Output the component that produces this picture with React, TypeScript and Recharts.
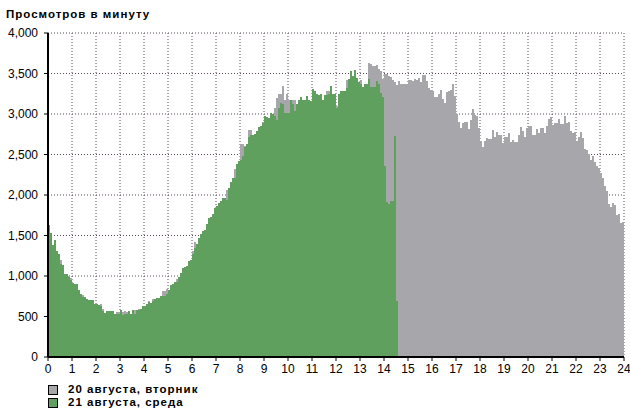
import React from "react";
import { BarChart, Bar, XAxis, YAxis, CartesianGrid } from "recharts";

// 5-minute bins, 288 per day
const hourTicks = [
  0, 1, 2, 3, 4, 5, 6, 7, 8, 9, 10, 11, 12, 13, 14, 15, 16, 17, 18, 19, 20, 21, 22, 23, 24,
];
const viewTicks = [0, 500, 1000, 1500, 2000, 2500, 3000, 3500, 4000];

const seriesNames = ["20 августа, вторник", "21 августа, среда"];

// Tuesday, Aug 20 — full day
const tuesdayViews = [
  1600, 1500, 1360, 1420, 1290, 1260, 1202, 1120, 1010, 1020, 996, 975,
  900, 890, 890, 820, 770, 770, 730, 710, 690, 690, 690, 640,
  640, 630, 650, 597, 543, 550, 555, 550, 555, 520, 551, 551,
  565, 551, 568, 551, 560, 530, 575, 584, 570, 593, 585, 615,
  620, 645, 691, 660, 716, 710, 725, 725, 749, 815, 815, 839,
  825, 880, 900, 920, 967, 980, 1030, 1090, 1105, 1110, 1175, 1195,
  1309, 1420, 1387, 1470, 1510, 1550, 1560, 1630, 1715, 1720, 1755, 1840,
  1860, 1900, 1920, 1960, 1960, 2057, 2085, 2160, 2210, 2316, 2370, 2410,
  2633, 2633, 2600, 2625, 2797, 2797, 2735, 2740, 2780, 2830, 2845, 2900,
  2965, 2955, 2940, 3010, 2990, 3077, 3192, 3241, 3241, 3344, 3179, 3253,
  3179, 3170, 3179, 3167, 3120, 3170, 3200, 3160, 3170, 3215, 3160, 3150,
  3300, 3285, 3250, 3230, 3235, 3165, 3230, 3282, 3290, 3340, 3245, 3235,
  3100, 3235, 3275, 3285, 3280, 3418, 3418, 3520, 3460, 3530, 3445, 3395,
  3418, 3335, 3368, 3368, 3627, 3615, 3594, 3594, 3603, 3553, 3533, 3430,
  3492, 3500, 3471, 3460, 3418, 3390, 3360, 3410, 3376, 3368, 3376, 3376,
  3418, 3418, 3410, 3430, 3418, 3450, 3400, 3483, 3483, 3410, 3327, 3295,
  3290, 3204, 3204, 3245, 3295, 3184, 3130, 3266, 3280, 3295, 3368, 3225,
  3000, 2896, 2826, 2884, 2896, 2896, 2814, 2930, 3060, 2990, 2980, 2826,
  2670, 2587, 2661, 2703, 2690, 2690, 2802, 2719, 2781, 2744, 2744, 2637,
  2711, 2711, 2760, 2649, 2682, 2657, 2649, 2744, 2835, 2785, 2711, 2826,
  2855, 2847, 2744, 2744, 2810, 2760, 2826, 2826, 2760, 2847, 2938, 2958,
  2868, 2884, 2884, 2938, 2876, 2876, 2979, 2884, 2905, 2793, 2760, 2773,
  2670, 2711, 2773, 2703, 2566, 2554, 2504, 2430, 2484, 2413, 2360, 2339,
  2277, 2207, 2112, 2050, 1885, 1852, 1897, 1877, 1753, 1761, 1658, 1670,
];

// Wednesday, Aug 21 — up to ~14:35
const wednesdayViews = [
  1625, 1531, 1378, 1448, 1309, 1276, 1152, 1132, 1029, 1029, 988, 955,
  914, 905, 905, 831, 782, 741, 741, 716, 700, 700, 700, 650,
  650, 638, 625, 564, 543, 564, 564, 564, 564, 527, 527, 527,
  576, 514, 535, 535, 568, 535, 584, 535, 576, 576, 593, 625,
  625, 650, 675, 667, 691, 716, 732, 732, 749, 749, 757, 782,
  831, 885, 905, 926, 926, 988, 1037, 1099, 1111, 1119, 1181, 1202,
  1268, 1350, 1392, 1474, 1515, 1556, 1564, 1638, 1720, 1729, 1761, 1844,
  1864, 1905, 1926, 1967, 1967, 1934, 2090, 2164, 2214, 2214, 2378, 2419,
  2431, 2481, 2592, 2633, 2715, 2740, 2740, 2748, 2789, 2838, 2851, 2888,
  2974, 2962, 2945, 3015, 2994, 2974, 2920, 3077, 3138, 3126, 3015, 3015,
  3015, 3179, 3118, 3036, 3126, 3179, 3208, 3167, 3179, 3221, 3167, 3159,
  3303, 3290, 3253, 3233, 3241, 3171, 3233, 3233, 3249, 3344, 3249, 3241,
  3077, 3241, 3282, 3290, 3282, 3323, 3430, 3533, 3471, 3541, 3450, 3400,
  3368, 3335, 3368, 3368, 3430, 3335, 3335, 3335, 3410, 3368, 3254, 3204,
  2362, 1910, 1890, 1930, 1930, 2732, 690,
];

const GREY = "#a7a6ab";
const GREEN = "#5fa05f";
const FONT = '"Liberation Sans", Arial, sans-serif';

const data = tuesdayViews.map((v, i) => ({
  t: (i + 0.5) / 12,
  tue: v,
  wed: i < wednesdayViews.length ? wednesdayViews[i] : null,
}));

const fmt = (v: number) => v.toLocaleString("en-US");

const LegendRow = ({ color, label }: { color: string; label: string }) => (
  <div style={{ display: "flex", alignItems: "center", height: 13 }}>
    <div
      style={{
        width: 10,
        height: 10,
        boxSizing: "border-box",
        border: "1px solid #000",
        background: color,
        marginRight: 10,
      }}
    />
    <span>{label}</span>
  </div>
);

export default function App() {
  return (
    <div
      style={{
        position: "absolute",
        left: 0,
        top: 0,
        width: 630,
        height: 417,
        background: "#fff",
        fontFamily: FONT,
      }}
    >
      {/* bars are 2px wide, keep them from bleeding into each other */}
      <style>{`.recharts-bar-rectangle path { shape-rendering: crispEdges; }`}</style>
      <div
        style={{
          position: "absolute",
          left: 6,
          top: 7,
          fontSize: 11.5,
          lineHeight: "14px",
          fontWeight: "bold",
          letterSpacing: 1,
        }}
      >
        Просмотров в минуту
      </div>
      <BarChart
        width={630}
        height={417}
        data={data}
        margin={{ top: 33, right: 6, bottom: 40, left: 0 }}
        barCategoryGap={0}
        barGap={0}
      >
        <XAxis
          xAxisId="tue"
          dataKey="t"
          type="number"
          domain={[0, 24]}
          ticks={hourTicks}
          interval={0}
          height={20}
          tickSize={4}
          tickMargin={3}
          axisLine={{ stroke: "#000", strokeWidth: 2 }}
          tickLine={{ stroke: "#000" }}
          tick={{ fill: "#000", fontSize: 12, fontFamily: FONT }}
        />
        <XAxis xAxisId="wed" dataKey="t" type="number" domain={[0, 24]} hide />
        <YAxis
          domain={[0, 4000]}
          ticks={viewTicks}
          interval={0}
          width={48}
          tickSize={4}
          tickMargin={6}
          tickFormatter={fmt}
          axisLine={{ stroke: "#000", strokeWidth: 2 }}
          tickLine={{ stroke: "#000" }}
          tick={{ fill: "#000", fontSize: 12, fontFamily: FONT }}
        />
        <Bar
          xAxisId="tue"
          dataKey="tue"
          name={seriesNames[0]}
          fill={GREY}
          barSize={2}
          isAnimationActive={false}
        />
        <Bar
          xAxisId="wed"
          dataKey="wed"
          name={seriesNames[1]}
          fill={GREEN}
          barSize={2}
          isAnimationActive={false}
        />
        <CartesianGrid
          xAxisId="tue"
          stroke="#5b4b5b"
          strokeDasharray="1 2"
          fill="none"
        />
      </BarChart>
      <div
        style={{
          position: "absolute",
          left: 48,
          top: 383,
          fontSize: 11.5,
          lineHeight: "13px",
          fontWeight: "bold",
          letterSpacing: 1,
        }}
      >
        <LegendRow color={GREY} label={seriesNames[0]} />
        <LegendRow color={GREEN} label={seriesNames[1]} />
      </div>
    </div>
  );
}
